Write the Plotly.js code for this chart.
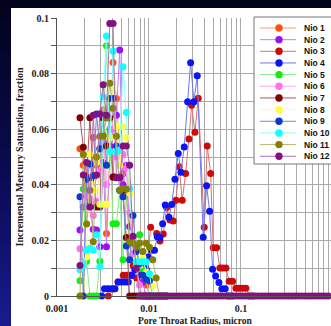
<!DOCTYPE html>
<html><head><meta charset="utf-8">
<script src="https://cdn.plot.ly/plotly-3.0.1.min.js"></script>
<style>
html,body{margin:0;padding:0;width:331px;height:326px;overflow:hidden;background:linear-gradient(to bottom,#03031c 0%,#0b0b55 55%,#1a1a8e 100%);}
#chart{position:absolute;left:11px;top:8px;width:320px;height:330px;}
</style></head><body><div id="chart"></div><script>
// shared radius grid (micron) for most samples
const radius = [0.001778,0.001932,0.002099,0.002280,0.002477,0.002692,0.002924,0.003177,0.003451,0.003750,
0.004074,0.004426,0.004808,0.005224,0.005675,0.006166,0.006699,0.007278,0.007907,0.008590,
0.009333,0.01014,0.01102,0.01197,0.01300,0.01413,0.01535,0.01667,0.01811,0.01968,
0.02138,0.02323,0.02523,0.02742,0.02979,0.03236,0.03516,0.03819,0.04150,0.04508,
0.04898,0.05321,0.05781,0.06281,0.06823,0.07413,0.08054,0.08750,0.09506,0.1033,
0.1122,0.1219,0.1324,0.1439,0.1563,0.1698,0.1845,0.2004,0.2178,0.2366,
0.2570,0.2793,0.3034,0.3296,0.3581,0.3890,0.4227,0.4592,0.4989,0.5420,
0.5888,0.6397,0.6950,0.7551,0.8204,0.8913,0.9683];

const nio1 = [0.053,0.047,0.040,0.035,0.057,0.047,0.053,0.067,0.0225,0.0535,0.084,0.071,0.053,0.044,0.038,0.021,0.020,0.012,0.0095,0.0085,0.004,0,0,0,0,0,0];
const nio2 = [0.0237,0.032,0.043,0.033,0.024,0.0237,0.0177,0.048,0.0177,0.054,0.043,0.065,0.0885,0.040,0.047,0.025,0.021,0.017,0.012,0.005,0,0,0,0,0,0,0];
const nio3_r = [0.003611,0.004062,0.004603,0.005256,0.005723,0.006216,0.006751,0.007350,0.007983,0.008670,0.009441,0.01043,0.01213,0.01317,0.01430,0.01557,0.01692,0.01837,0.01966,0.02135,0.02301,0.02505,0.02722,0.02912,0.03162,0.03435,0.03991,0.04302,0.04685,0.05000,0.05443,0.05913,0.06326,0.06871,0.07462,0.08124,0.08826,0.09584,0.1043,0.1133,0.1237,0.1349];
const nio3 = [0,0.0025,0.005,0.0075,0.0075,0.0075,0.011,0.0065,0.0105,0.013,0.0094,0.0247,0.0225,0.0198,0.0223,0.0318,0.0273,0.027,0.0344,0.0465,0.0344,0.0441,0.0565,0.0686,0.0589,0.0711,0.0247,0.054,0.0441,0.0174,0.0174,0.0101,0.0101,0.0101,0.0053,0.0053,0.0028,0.0028,0.0028,0.0028,0,0];
const nio4_r = [0.003062,0.003284,0.003584,0.003912,0.004269,0.004638,0.005050,0.005484,0.005957,0.006486,0.007046,0.007650,0.008330,0.009049,0.009826,0.01065,0.01148,0.01231,0.01317,0.01409,0.01504,0.01650,0.01765,0.01917,0.02083,0.02228,0.02419,0.02634,0.02840,0.03084,0.03350,0.03892,0.04239,0.04568,0.04925,0.05309,0.05767,0.06217,0.06750,0.07312,0.07986];
const nio4 = [0,0.0026,0.0026,0.0026,0.0026,0.005,0.005,0.005,0.005,0.0074,0.0094,0.0114,0.0076,0.0105,0.014,0.0165,0.0165,0.0213,0.021,0.026,0.0327,0.0283,0.0329,0.042,0.0513,0.0445,0.0536,0.0699,0.0839,0.0699,0.0792,0.0211,0.0397,0.0305,0.0096,0.0072,0.0049,0.0026,0.0026,0,0];
const nio5 = [0.0055,0.0385,0.0125,0,0,0,0.0125,0.058,0.090,0.060,0.026,0.026,0.038,0.013,0.036,0.020,0.0135,0.011,0.022,0.0095,0.006,0,0,0,0,0,0];
const nio6 = [0.017,0.0105,0.036,0.051,0.029,0.034,0.045,0.055,0.040,0.067,0.060,0.050,0.052,0.051,0.046,0.030,0.015,0.0105,0.004,0,0,0,0,0,0,0,0];
const nio7 = [0.0641,0.0535,0.043,0.0641,0.0425,0.032,0.032,0.064,0.054,0.064,0.0427,0.0427,0.0427,0.038,0.021,0,0,0,0,0,0,0,0,0,0,0,0];
const nio8 = [0,0,0.014,0.051,0.038,0.048,0.033,0.033,0.033,0.057,0.075,0.061,0.047,0.061,0.057,0.037,0.020,0.013,0.011,0.014,0.0085,0.007,0.0035,0,0,0,0];
const nio9 = [0.0357,0,0.042,0.0475,0.0433,0.0655,0.053,0.065,0.047,0.071,0.071,0.054,0.038,0.0357,0.018,0.013,0.029,0.016,0.0117,0.0075,0.006,0.0055,0,0,0,0,0];
const nio10 = [0.0094,0.011,0.0165,0.0172,0.0165,0.022,0.0105,0.0717,0.0935,0.052,0.088,0.052,0.0525,0.0825,0.066,0.0387,0.020,0.0123,0.0123,0.0123,0.0123,0.008,0,0,0,0,0];
const nio11 = [0,0.051,0.0259,0.038,0.0195,0.050,0.0575,0.0575,0.064,0.0765,0.0675,0.0575,0.038,0.0387,0.0384,0.0195,0.019,0.0175,0.019,0.016,0.019,0.0175,0.013,0.0065,0,0,0];
const nio12 = [0.011,0.0435,0.048,0.032,0.065,0.0435,0.0655,0.076,0.065,0.098,0.098,0.0425,0.0425,0.054,0.054,0.047,0.0215,0.010,
0,0,0,0,0,0,0,0,0,0,
0,0,0,0,0,0,0,0,0,0,
0,0,0,0,0,0,0,0,0,0,
0,0,0,0,0,0,0,0,0,0,
0,0,0,0,0,0,0,0,0,0,
0,0,0,0,0,0,0,0,0];

const names = ['Nio 1','Nio 2','Nio 3','Nio 4','Nio 5','Nio 6','Nio 7','Nio 8','Nio 9','Nio 10','Nio 11','Nio 12'];
const ySeries = [nio1,nio2,nio3,nio4,nio5,nio6,nio7,nio8,nio9,nio10,nio11,nio12];
const xSeries = [radius,radius,nio3_r,nio4_r,radius,radius,radius,radius,radius,radius,radius,radius];
const markerColors = ['#ff5010','#9b10f5','#cc0a0a','#0a14f5','#10f010','#ff70f0','#800000','#ffff40','#0a3acb','#10ffff','#858000','#851080'];
const lineColors = ['#f79a72','#c080f5','#dd7070','#7078f0','#80ee80','#ffaaf5','#b05858','#ffff90','#7088dd','#88ffff','#b8b470','#b070b0'];

const traces = names.map((n,k)=>({
  type:'scatter', mode:'lines+markers', name:n,
  x: xSeries[k].slice(0, ySeries[k].length), y: ySeries[k],
  line:{color:lineColors[k], width:1},
  marker:{color:markerColors[k], size:7, line:{width:0}},
  cliponaxis:false
}));

// custom legend
const L = 57, W = 274, B = 296, H = 278;
const px2x = p => (p - L)/W, px2y = p => (B - p)/H;
const shapes = [{type:'rect', xref:'paper', yref:'paper', x0:px2x(254), x1:px2x(345), y0:px2y(164), y1:px2y(17), fillcolor:'#ffffff', line:{color:'#777', width:1}, layer:'above'}];
const axFont = {family:'Liberation Serif', size:10, color:'#222', weight:'bold'};
const annotations = [{xref:'paper', yref:'paper', x:px2x(195), y:px2y(328), xanchor:'center', yanchor:'bottom', showarrow:false, text:'Pore Throat Radius, micron', font:{family:'Liberation Serif', size:9.5, color:'#222', weight:'bold'}}];
names.forEach((n,k)=>{
  const yp = px2y(28 + 11.66*k);
  shapes.push({type:'line', xref:'paper', yref:'paper', x0:px2x(260), x1:px2x(296), y0:yp, y1:yp, line:{color:lineColors[k], width:1}, layer:'above'});
  shapes.push({type:'circle', xref:'paper', yref:'paper', xsizemode:'pixel', ysizemode:'pixel', xanchor:px2x(279), yanchor:yp, x0:-3.7, x1:3.7, y0:-3.7, y1:3.7, fillcolor:markerColors[k], line:{width:0}, layer:'above'});
  annotations.push({xref:'paper', yref:'paper', x:px2x(302), y:yp, xanchor:'left', yanchor:'middle', showarrow:false, text:n, font:{family:'Liberation Sans', size:8.5, color:'#111', weight:'bold'}});
});

const layout = {
  width:320, height:330,
  margin:{l:46, r:0, t:10, b:42},
  paper_bgcolor:'#ffffff', plot_bgcolor:'#ffffff',
  showlegend:false,
  xaxis:{type:'log', range:[-3,-0.02], dtick:1, tick0:0, showgrid:true, gridcolor:'#aaaaaa', gridwidth:1,
    minor:{dtick:'D1', showgrid:true, gridcolor:'#aaaaaa', gridwidth:1},
    showline:true, linecolor:'#555', linewidth:1, ticks:'', ticklabelstandoff:3, zeroline:false,
    tickfont:axFont, automargin:false},
  yaxis:{range:[0,0.1], dtick:0.02, tick0:0, showgrid:true, gridcolor:'#aaaaaa', gridwidth:1,
    ticks:'outside', ticklen:5, tickcolor:'#555',
    minor:{dtick:0.01, showgrid:true, gridcolor:'#aaaaaa', ticks:'outside', ticklen:5, tickcolor:'#555'},
    showline:true, linecolor:'#555', linewidth:1, zeroline:false,
    tickfont:axFont, automargin:false,
    title:{text:'Incremental Mercury Saturation, fraction', font:axFont, standoff:6}},
  shapes:shapes, annotations:annotations
};
Plotly.newPlot('chart', traces, layout, {staticPlot:true, displayModeBar:false});
</script></body></html>
